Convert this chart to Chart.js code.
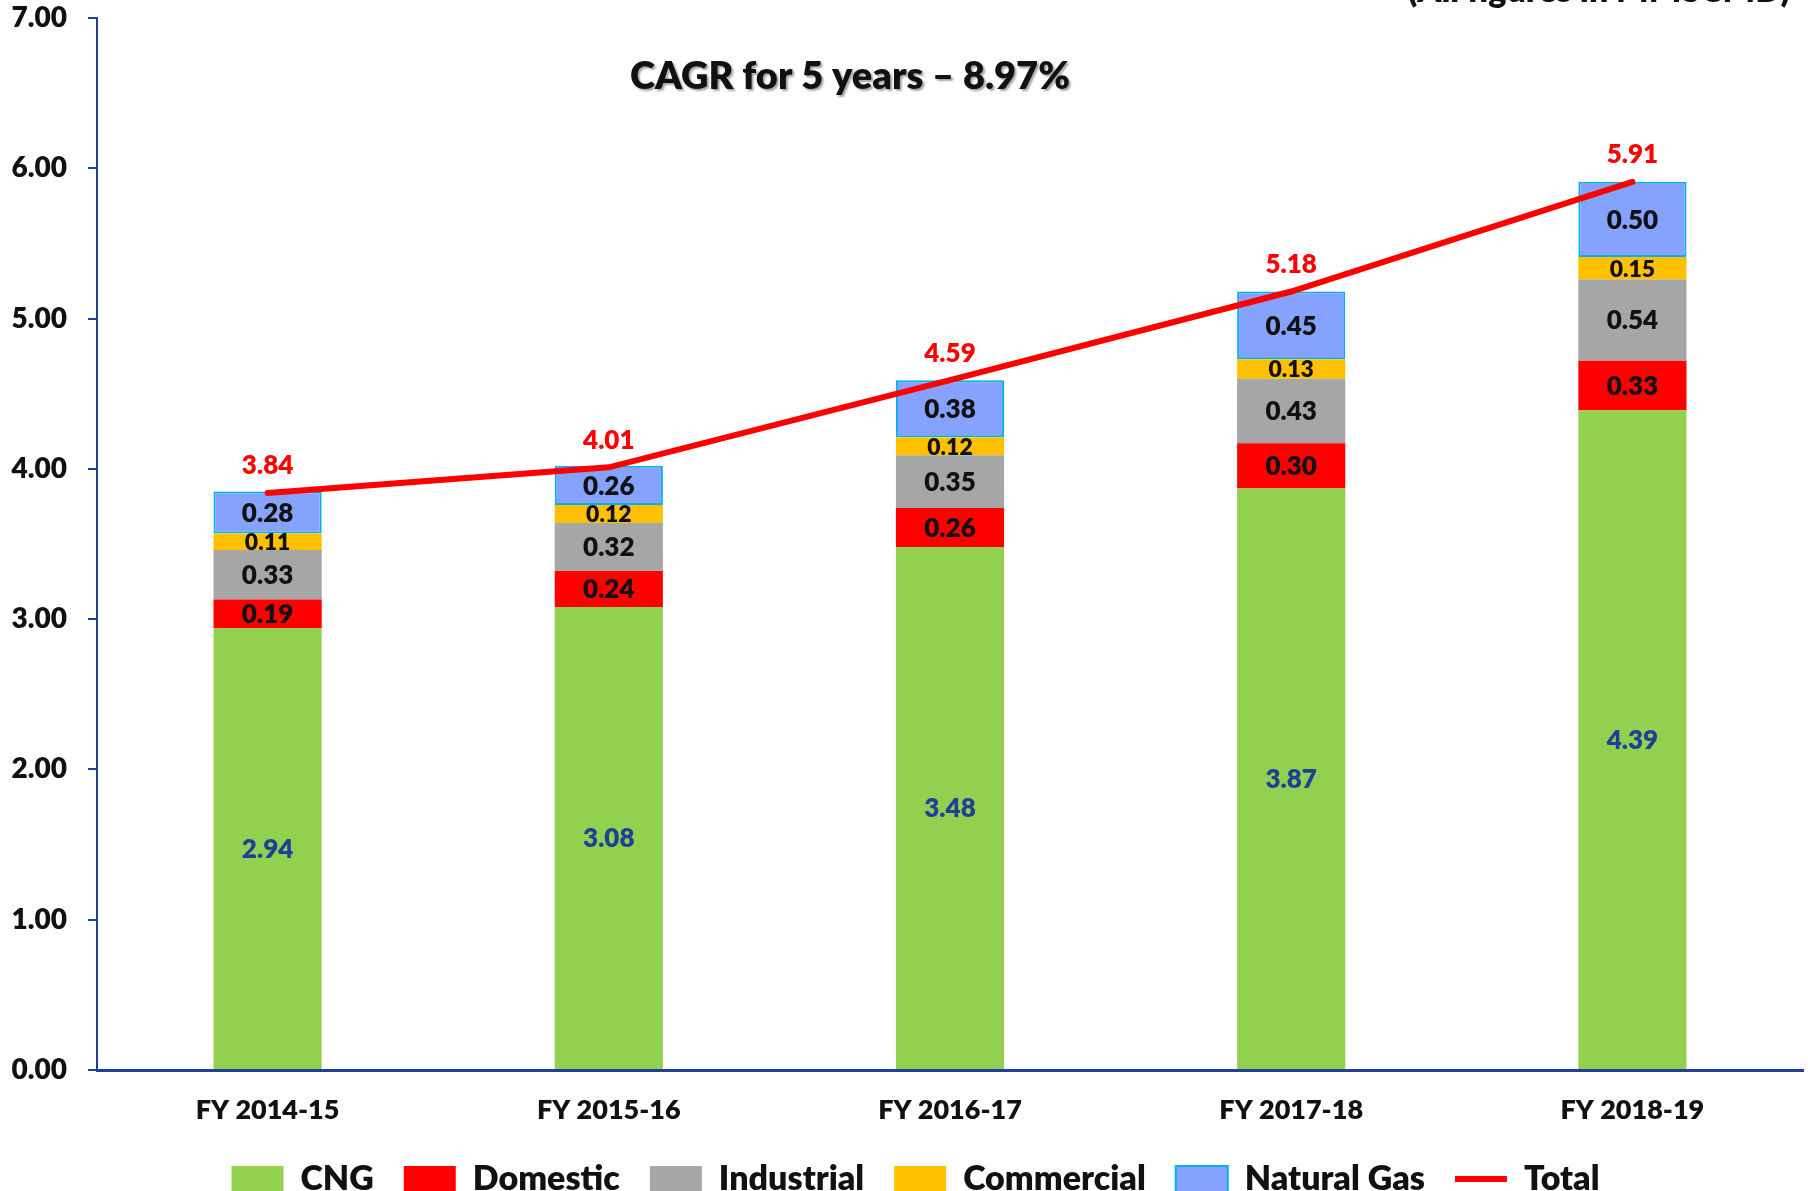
<!DOCTYPE html>
<html><head><meta charset="utf-8">
<script src="https://cdn.jsdelivr.net/npm/chart.js@4.4.1/dist/chart.umd.min.js"></script>
<style>html,body{margin:0;padding:0;background:#fff;overflow:hidden}</style>
</head><body>
<canvas id="c" width="1808" height="1191"></canvas>
<script>
const categories = ['FY 2014-15','FY 2015-16','FY 2016-17','FY 2017-18','FY 2018-19'];
const cng = [2.94,3.08,3.48,3.87,4.39];
const domestic = [0.19,0.24,0.26,0.30,0.33];
const industrial = [0.33,0.32,0.35,0.43,0.54];
const commercial = [0.11,0.12,0.12,0.13,0.15];
const naturalGas = [0.28,0.26,0.38,0.45,0.50];
const total = [3.84,4.01,4.59,5.18,5.91];
const chartTitle = 'CAGR for 5 years \u2013 8.97%';
const unitNote = '(All figures in MMSCMD)';
const yMin = 0, yMax = 7, yStep = 1;

const FONT = 'Lato, "Open Sans", sans-serif';
const W = '800';
const AXIS_BLUE = '#1F3F98';

const labelPlugin = {
  id: 'valueLabels',
  afterDatasetsDraw(chart) {
    const ctx = chart.ctx;
    ctx.save();
    ctx.textAlign = 'center';
    ctx.textBaseline = 'middle';
    chart.data.datasets.forEach((ds, di) => {
      const meta = chart.getDatasetMeta(di);
      meta.data.forEach((el, i) => {
        const txt = Number(ds.data[i]).toFixed(2);
        if (ds.type === 'line') {
          ctx.fillStyle = '#FF0000';
          ctx.font = W + ' 26px ' + FONT;
          ctx.fillText(txt, el.x, el.y - 27);
        } else {
          const p = el.getProps(['x', 'y', 'base'], true);
          ctx.fillStyle = ds.labelColor;
          ctx.font = W + ' ' + ds.labelSize + 'px ' + FONT;
          ctx.fillText(txt, p.x, (p.y + p.base) / 2 + 1);
        }
      });
    });
    ctx.restore();
  }
};

const textPlugin = {
  id: 'texts',
  afterLayout(chart) {
    if (chart.legend) { chart.legend.left += 14; chart.legend.right += 14; }
  },
  afterDraw(chart) {
    const ctx = chart.ctx;
    ctx.save();
    ctx.font = W + ' 38px ' + FONT;
    ctx.textAlign = 'center';
    ctx.textBaseline = 'middle';
    ctx.shadowColor = 'rgba(0,0,0,0.35)';
    ctx.shadowOffsetX = 2;
    ctx.shadowOffsetY = 2;
    ctx.shadowBlur = 2;
    ctx.fillStyle = '#111';
    ctx.fillText(chartTitle, 850, 77);
    ctx.shadowColor = 'transparent';
    ctx.font = W + ' 34px ' + FONT;
    ctx.textAlign = 'right';
    ctx.textBaseline = 'alphabetic';
    ctx.fillText(unitNote, 1790, 2);
    ctx.restore();
  }
};

const barDs = (label, data, color, labelColor, labelSize, extra) => Object.assign({
  type: 'bar', label, data, backgroundColor: color, borderWidth: 0,
  stack: 'segments', order: 1, barPercentage: 0.317, categoryPercentage: 1,
  labelColor, labelSize
}, extra || {});

new Chart(document.getElementById('c'), {
  data: {
    labels: categories,
    datasets: [
      barDs('CNG', cng, '#92D050', '#1F3F98', 26),
      barDs('Domestic', domestic, '#FF0000', '#111', 26),
      barDs('Industrial', industrial, '#A6A6A6', '#111', 26),
      barDs('Commercial', commercial, '#FFC000', '#111', 23),
      barDs('Natural Gas', naturalGas, '#86A2FF', '#111', 26, {borderColor: '#00B0F0', borderWidth: 2, borderSkipped: false}),
      {type: 'line', label: 'Total', data: total, borderColor: '#FF0000', backgroundColor: '#FF0000',
       borderWidth: 6, pointRadius: 0, tension: 0, stack: 'total', order: 0, borderCapStyle: 'round'}
    ]
  },
  options: {
    responsive: false,
    animation: false,
    layout: {padding: {top: 0, right: 5, left: 0, bottom: -15}},
    plugins: {
      tooltip: {enabled: false},
      legend: {
        position: 'bottom',
        labels: {
          usePointStyle: true,
          pointStyleWidth: 52,
          boxHeight: 26,
          padding: 30,
          color: '#111',
          font: {family: FONT, size: 34, weight: W},
          sort: (a, b) => a.datasetIndex - b.datasetIndex,
          generateLabels(chart) {
            const items = Chart.defaults.plugins.legend.labels.generateLabels(chart);
            items.forEach(it => {
              const ds = chart.data.datasets[it.datasetIndex];
              it.pointStyle = ds.type === 'line' ? 'line' : 'rect';
              it.fontColor = '#111';
            });
            return items;
          }
        }
      }
    },
    scales: {
      x: {
        stacked: true,
        grid: {display: false, drawTicks: false},
        border: {display: true, color: AXIS_BLUE, width: 3},
        ticks: {color: '#111', font: {family: FONT, size: 27, weight: W}, padding: 24},
        afterFit(s) { s.height = 62; }
      },
      y: {
        stacked: true,
        min: yMin, max: yMax,
        grid: {drawOnChartArea: false, drawTicks: true, tickLength: 9, color: AXIS_BLUE, lineWidth: 2},
        border: {display: true, color: AXIS_BLUE, width: 2},
        ticks: {stepSize: yStep, color: '#111', padding: 21,
                font: {family: FONT, size: 28, weight: W},
                callback: v => Number(v).toFixed(2)},
        afterFit(s) { s.width = 97; s.paddingTop = 18; s.paddingBottom = 0; }
      }
    }
  },
  plugins: [labelPlugin, textPlugin]
});
</script>
</body></html>
